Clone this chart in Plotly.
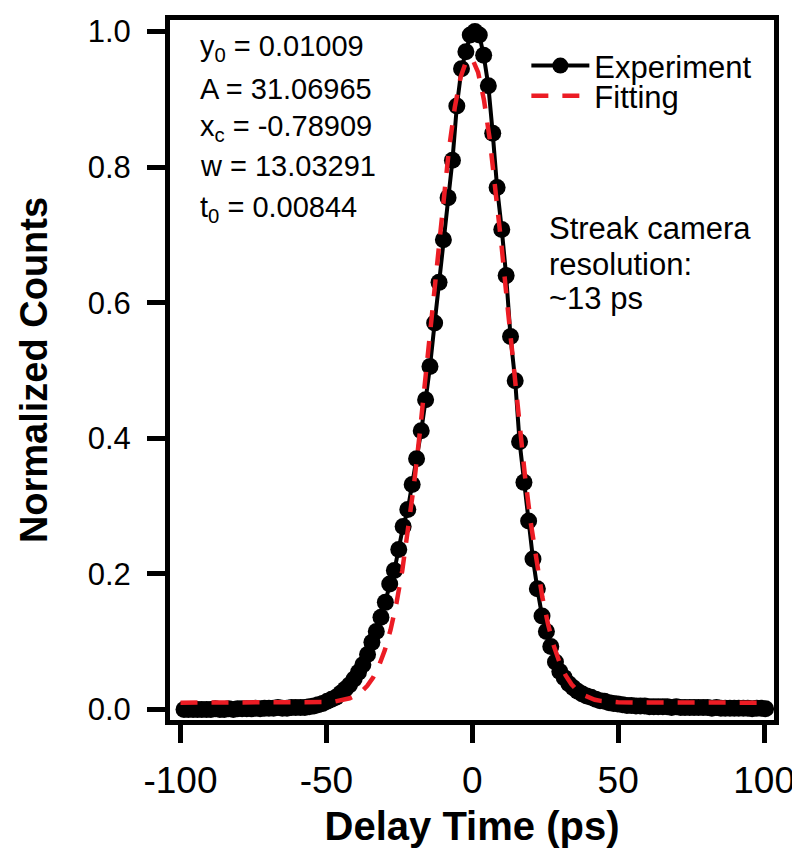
import plotly.graph_objects as go

# ---------------- data ----------------
delay_ps = [
    -98.8, -97.3, -95.7, -94.2, -92.7, -91.1, -89.6, -88.1, -86.5, -85.0,
    -83.5, -81.9, -80.4, -78.9, -77.3, -75.8, -74.3, -72.7, -71.2, -69.7,
    -68.1, -66.6, -65.1, -63.5, -62.0, -60.5, -58.9, -57.4, -55.9, -54.3,
    -52.8, -51.3, -49.7, -48.2, -46.7, -45.1, -43.6, -42.1, -40.5, -39.0,
    -37.5, -35.9, -34.4, -32.9, -31.3, -29.8, -28.3, -26.7, -25.2, -23.7,
    -22.1, -20.6, -19.1, -17.5, -16.0, -14.5, -12.9, -11.4, -9.9, -8.3,
    -6.8, -5.3, -3.7, -2.2, -0.7, 0.9, 2.4, 3.9, 5.5, 7.0,
    8.5, 10.1, 11.6, 13.1, 14.7, 16.2, 17.7, 19.3, 20.8, 22.3,
    23.9, 25.4, 26.9, 28.5, 30.0, 31.5, 33.1, 34.6, 36.1, 37.7,
    39.2, 40.7, 42.3, 43.8, 45.3, 46.9, 48.4, 49.9, 51.5, 53.0,
    54.5, 56.1, 57.6, 59.1, 60.7, 62.2, 63.7, 65.3, 66.8, 68.3,
    69.9, 71.4, 72.9, 74.5, 76.0, 77.5, 79.1, 80.6, 82.1, 83.7,
    85.2, 86.7, 88.3, 89.8, 91.3, 92.9, 94.4, 95.9, 97.5, 99.0,
    100.5,
]
experiment_counts = [
    0.000, 0.000, 0.000, 0.000, 0.000, 0.000, 0.000, 0.001, 0.000, 0.000,
    0.001, 0.000, 0.001, 0.001, 0.001, 0.001, 0.002, 0.001, 0.002, 0.002,
    0.002, 0.003, 0.002, 0.002, 0.003, 0.003, 0.003, 0.003, 0.004, 0.005,
    0.007, 0.009, 0.012, 0.015, 0.018, 0.024, 0.030, 0.036, 0.045, 0.055,
    0.066, 0.081, 0.099, 0.115, 0.136, 0.158, 0.185, 0.205, 0.236, 0.270,
    0.295, 0.332, 0.370, 0.411, 0.457, 0.506, 0.570, 0.630, 0.693, 0.755,
    0.810, 0.890, 0.945, 0.970, 0.995, 1.000, 0.995, 0.965, 0.920, 0.850,
    0.770, 0.708, 0.640, 0.550, 0.485, 0.395, 0.335, 0.278, 0.222, 0.178,
    0.138, 0.115, 0.093, 0.070, 0.056, 0.047, 0.038, 0.032, 0.027, 0.023,
    0.020, 0.018, 0.015, 0.013, 0.012, 0.010, 0.009, 0.008, 0.007, 0.006,
    0.006, 0.005, 0.005, 0.005, 0.004, 0.004, 0.004, 0.004, 0.004, 0.003,
    0.004, 0.003, 0.003, 0.003, 0.003, 0.003, 0.003, 0.003, 0.002, 0.003,
    0.002, 0.002, 0.002, 0.002, 0.002, 0.002, 0.002, 0.001, 0.002, 0.002,
    0.001,
]

fit_delay_ps = [
    -100, -90, -80, -70, -60, -55, -50, -47, -44, -42,
    -40, -38, -36, -34, -32, -30, -28, -26, -24, -22,
    -20, -18, -16, -14, -12, -10, -8, -6, -4, -2,
    0,
    2, 4, 6, 8, 10, 12, 14, 16, 18, 20,
    22, 24, 26, 28, 30, 32, 34, 36, 38, 40,
    42, 44, 47, 50, 55, 60, 70, 80, 90, 100,
]
fit_counts = [
    0.0101, 0.0101, 0.0101, 0.0101, 0.0101, 0.0103, 0.0109, 0.0119, 0.0140, 0.0165,
    0.0204, 0.0262, 0.0348, 0.0471, 0.0642, 0.0872, 0.1177, 0.1565, 0.2049, 0.2631,
    0.3310, 0.4078, 0.4914, 0.5791, 0.6670, 0.7510, 0.8262, 0.8882, 0.9328, 0.9571,
    0.9595,
    0.9397, 0.8991, 0.8405, 0.7678, 0.6853, 0.5978, 0.5097, 0.4249, 0.3465, 0.2766,
    0.2163, 0.1659, 0.1251, 0.0930, 0.0685, 0.0503, 0.0371, 0.0278, 0.0214, 0.0172,
    0.0144, 0.0127, 0.0113, 0.0106, 0.0102, 0.0101, 0.0101, 0.0101, 0.0101, 0.0101,
]

x_tick_vals = [-100, -50, 0, 50, 100]
x_tick_text = ["-100", "-50", "0", "50", "100"]
y_tick_vals = [0.0, 0.2, 0.4, 0.6, 0.8, 1.0]
y_tick_text = ["0.0", "0.2", "0.4", "0.6", "0.8", "1.0"]

fit_params = [
    "y<sub>0</sub> = 0.01009",
    "A = 31.06965",
    "x<sub>c</sub> = -0.78909",
    "w = 13.03291",
    "t<sub>0</sub> = 0.00844",
]
note_lines = ["Streak camera", "resolution:", "~13 ps"]

# ---------------- figure ----------------
FONT = "Liberation Sans, Arial, Helvetica, sans-serif"
RED = "#ec1c24"

fig = go.Figure()
fig.add_trace(go.Scatter(
    x=delay_ps, y=experiment_counts, mode="lines+markers", name="Experiment",
    line=dict(color="black", width=4), marker=dict(color="black", size=17),
    legend="legend",
))
fig.add_trace(go.Scatter(
    x=fit_delay_ps, y=fit_counts, mode="lines", name="Fitting",
    line=dict(color=RED, width=4.5, dash="17px,14px"),
    legend="legend2",
))

axis_common = dict(
    showline=True, linewidth=5, linecolor="black", mirror=True,
    ticks="outside", ticklen=18, tickwidth=5, tickcolor="black",
    showgrid=False, zeroline=False,
)

fig.update_layout(
    template="none",
    width=800, height=850,
    margin=dict(l=162, r=34, t=12, b=138, autoexpand=False),
    paper_bgcolor="white", plot_bgcolor="white",
    font=dict(family=FONT, color="black"),
    showlegend=True,
    xaxis=dict(
        range=[-103.6, 103.4], tickvals=x_tick_vals, ticktext=x_tick_text,
        tickfont=dict(size=37), ticklabelstandoff=6,
        title=dict(text="<b>Delay Time (ps)</b>", font=dict(size=40), standoff=13),
        **axis_common,
    ),
    yaxis=dict(
        range=[-0.0155, 1.017], tickvals=y_tick_vals, ticktext=y_tick_text,
        tickfont=dict(size=31), ticklabelstandoff=10,
        title=dict(text="<b>Normalized Counts</b>", font=dict(size=38), standoff=30),
        **axis_common,
    ),
    legend=dict(
        x=0.590, y=0.973, xanchor="left", yanchor="top",
        bgcolor="rgba(0,0,0,0)", borderwidth=0, itemwidth=58,
        font=dict(size=31), tracegroupgap=0,
    ),
    legend2=dict(
        x=0.590, y=0.930, xanchor="left", yanchor="top",
        bgcolor="rgba(0,0,0,0)", borderwidth=0, itemwidth=58,
        font=dict(size=31), tracegroupgap=0,
    ),
)

param_y = [0.975, 0.9145, 0.857, 0.801, 0.738]
for txt, yy in zip(fit_params, param_y):
    fig.add_annotation(
        x=-94.0, y=yy, xref="x", yref="y", text=txt, showarrow=False,
        xanchor="left", yanchor="middle", font=dict(size=29),
    )

note_y = [0.709, 0.657, 0.606]
for txt, yy in zip(note_lines, note_y):
    fig.add_annotation(
        x=25.5, y=yy, xref="x", yref="y", text=txt, showarrow=False,
        xanchor="left", yanchor="middle", font=dict(size=31),
    )

fig.write_html("out.html")
